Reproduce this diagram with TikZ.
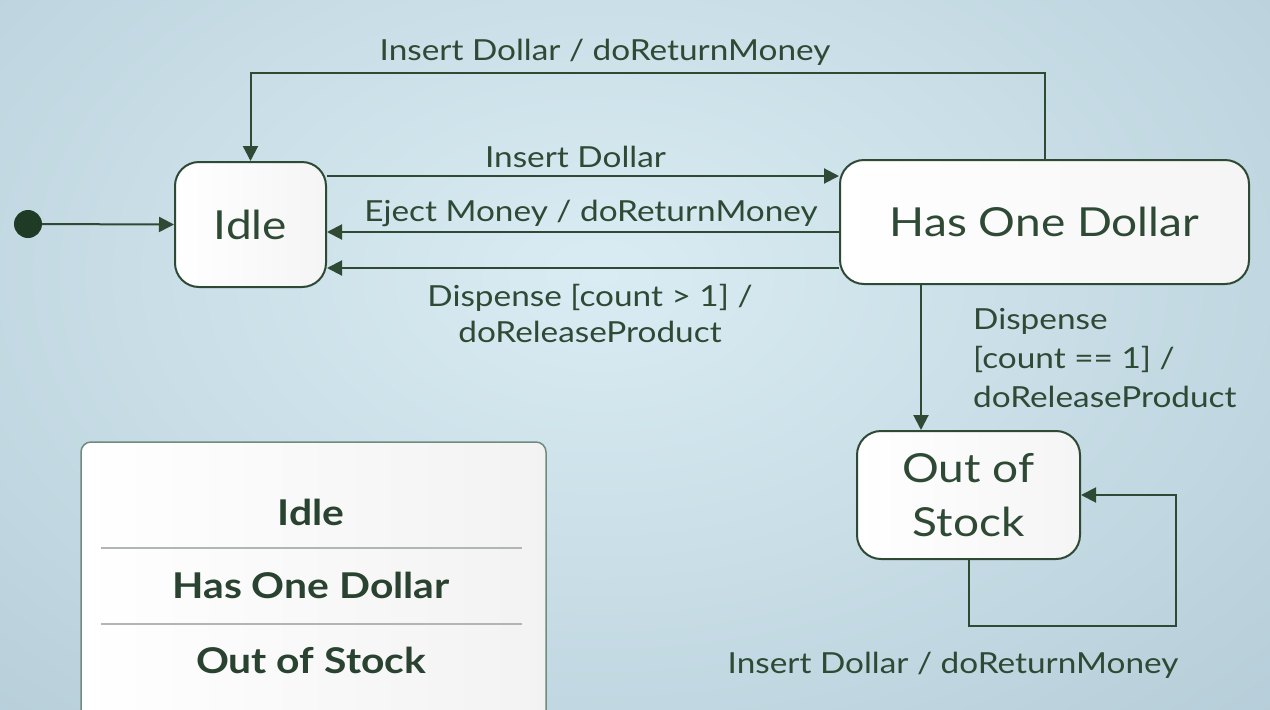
\documentclass[tikz,border=0pt]{standalone}
\usepackage{fontspec}
\setmainfont{Lato}[FakeStretch=1.15]
\usetikzlibrary{arrows.meta,calc}
\definecolor{dg}{HTML}{2E4A35}
\definecolor{dotc}{HTML}{1F3B25}
\definecolor{bgin}{HTML}{DAECF3}
\definecolor{bgout}{HTML}{B6CED9}
\definecolor{legborder}{HTML}{6F8B7C}
\definecolor{divc}{HTML}{B0B6B3}
\tikzset{
  statebox/.style={draw=dg, line width=2pt, rounded corners=24pt, left color=white, right color=black!4, text=dg, font=\fontsize{40}{54}\selectfont, align=center, inner sep=0pt},
  arr/.style={draw=dg, line width=2pt, -{Triangle[length=15pt,width=15pt]}},
  lbl/.style={text=dg, font=\fontsize{29}{36}\selectfont, inner sep=0pt},
  legtext/.style={text=dg!90!black, font=\fontsize{35.5}{40}\selectfont\bfseries, inner sep=0pt},
}
\begin{document}
\begin{tikzpicture}[x=1pt,y=-1pt]
\useasboundingbox (0,0) rectangle (1270,710);
\clip (0,0) rectangle (1270,710);
\shade[inner color=bgin, outer color=bgout] (-350,-350) rectangle (1550,900);

% states
\node[statebox, minimum width=151pt, minimum height=125pt] (idle) at (250.5,224.5) {Idle};
\node[statebox, minimum width=409pt, minimum height=124pt] (hod) at (1044.5,222) {Has One Dollar};
\node[statebox, minimum width=223pt, minimum height=128pt] (oos) at (968.5,495) {Out of\\Stock};
\node[circle, fill=dotc, inner sep=0pt, minimum size=28pt] (init) at (28,224) {};

% helper coordinates
\coordinate (r176) at (0,176);
\coordinate (r232) at (0,232);
\coordinate (r268) at (0,268);
\coordinate (c921) at (921,0);
\coordinate (topL) at (250.5,73);
\coordinate (loopC) at (1176,626);

% connectors
\draw[arr] (init) -- (idle.west);
\draw[arr] (hod.north) |- (topL) -- (idle.north);
\draw[arr] (idle.east |- r176) -- (hod.west |- r176);
\draw[arr] (hod.west |- r232) -- (idle.east |- r232);
\draw[arr] (hod.west |- r268) -- (idle.east |- r268);
\draw[arr] (hod.south -| c921) -- (oos.north -| c921);
\draw[arr] (oos.south) |- (loopC) |- (oos.east);

% labels
\node[lbl, anchor=base] (l1) at (605,60) {Insert Dollar / doReturnMoney};
\node[lbl, anchor=base] (l2) at (575.5,167) {Insert Dollar};
\node[lbl, anchor=base] (l3) at (591,221) {Eject Money / doReturnMoney};
\node[lbl, align=center] (l4) at (590,313) {Dispense [count > 1] /\\doReleaseProduct};
\node[lbl, align=left, anchor=west, font=\fontsize{29}{39}\selectfont] (l5) at (973,358) {Dispense\\{}[count == 1] /\\doReleaseProduct};
\node[lbl, anchor=base] (l6) at (953,673) {Insert Dollar / doReturnMoney};

% legend
\node[draw=legborder, line width=1.5pt, rounded corners=10pt, left color=white, right color=black!5, minimum width=465pt, minimum height=320pt, inner sep=0pt] (legend) at (313.5,602) {};
\node[legtext] (t1) at (311,512) {Idle};
\node[legtext] (t2) at (311,585) {Has One Dollar};
\node[legtext] (t3) at (311,660) {Out of Stock};
\coordinate (d1) at (101,548);
\coordinate (d1e) at (522,548);
\coordinate (d2) at (101,624);
\coordinate (d2e) at (522,624);
\draw[divc, line width=1.5pt] (d1) -- (d1e);
\draw[divc, line width=1.5pt] (d2) -- (d2e);
\end{tikzpicture}
\end{document}
